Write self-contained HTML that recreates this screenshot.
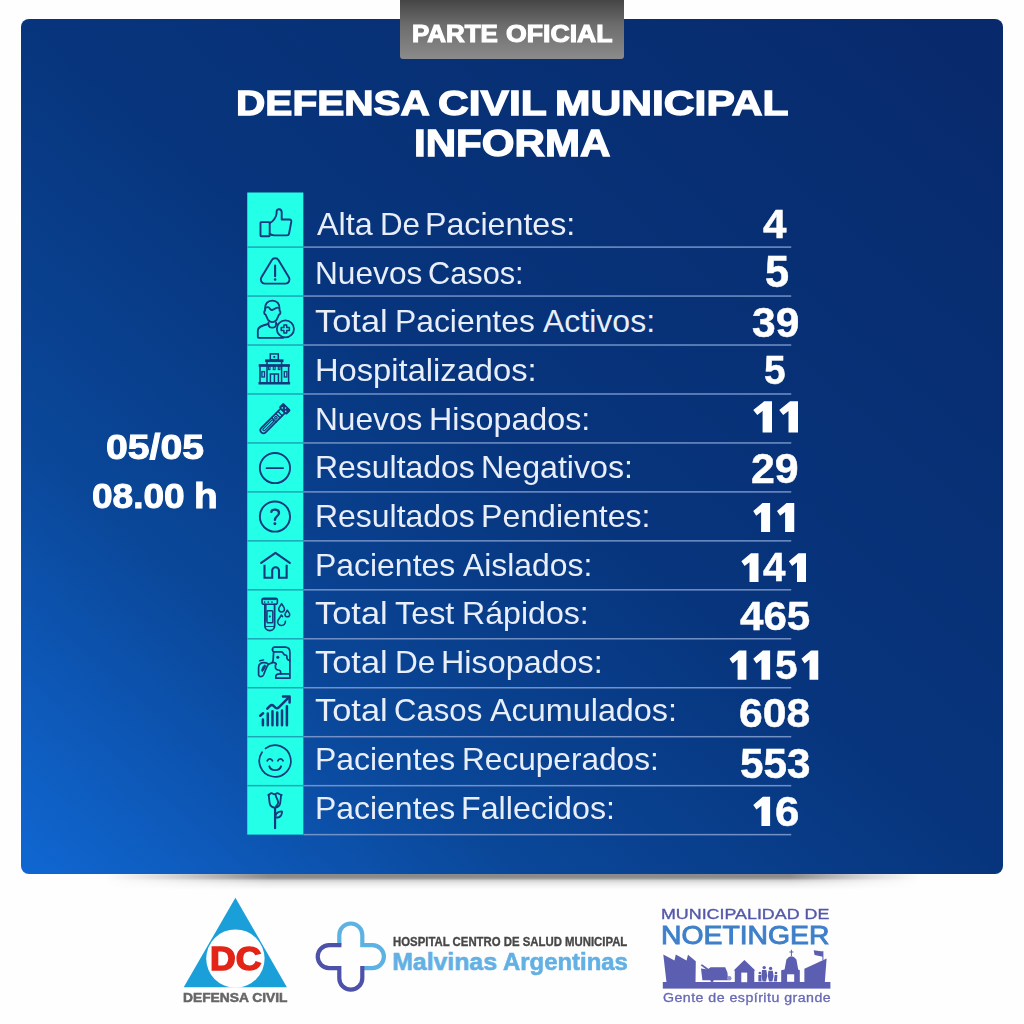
<!DOCTYPE html>
<html lang="es"><head><meta charset="utf-8"><title>Parte Oficial</title>
<style>
html,body{margin:0;padding:0;}
body{width:1024px;height:1024px;position:relative;overflow:hidden;background:#fefefe;font-family:"Liberation Sans",sans-serif;}
.abs{position:absolute;}
.tx{position:absolute;white-space:nowrap;line-height:1;transform-origin:0 0;}
#shadow{left:105px;top:870px;width:815px;height:20px;background:linear-gradient(to bottom,rgba(0,0,0,.45) 0,rgba(0,0,0,.45) 7px,rgba(0,0,0,.38) 8.5px,rgba(0,0,0,.18) 10.5px,rgba(0,0,0,.09) 13px,rgba(0,0,0,.03) 17px,rgba(0,0,0,0) 20px);-webkit-mask-image:linear-gradient(to right,transparent 0,rgba(0,0,0,.35) 8%,#000 20%,#000 84%,rgba(0,0,0,.3) 94%,transparent 100%);mask-image:linear-gradient(to right,transparent 0,rgba(0,0,0,.35) 8%,#000 20%,#000 84%,rgba(0,0,0,.3) 94%,transparent 100%);}
#panel{left:20.5px;top:18.7px;width:982.9px;height:855.1px;border-radius:8px;
 background:linear-gradient(to bottom left,#08296b 0%,#07357d 50%,#0a4799 74.5%,#1067d2 100%);}
#tab{left:400.3px;top:0;width:223.5px;height:59.2px;border-radius:0 0 3px 3px;
 background:linear-gradient(to bottom,#454545 0%,#6c6c6c 42%,#8b8b8b 100%);}
.num{position:absolute;width:140px;left:704.75px;text-align:center;color:#fff;font-weight:bold;font-size:40.9px;line-height:1;white-space:nowrap;-webkit-text-stroke:0.5px #fff;transform:scaleX(1.035);}
.ic{position:absolute;left:247.25px;width:56.25px;height:48px;}
.ic svg{position:absolute;left:0;top:0;width:56.25px;height:48px;overflow:visible;}
</style></head><body>
<div id="shadow" class="abs"></div>
<div id="panel" class="abs"></div>
<div id="tab" class="abs"></div>
<svg class="abs" style="left:0;top:180px" width="1024" height="670" viewBox="0 180 1024 670"><rect x="247.25" y="192.5" width="56.1" height="642.1" fill="#24ffe8"/><rect x="303.35" y="246.35" width="487.9" height="1.5" fill="#7391c6"/><rect x="247.25" y="246.35" width="56.1" height="1.5" fill="#1ba6b7"/><rect x="303.35" y="295.31" width="487.9" height="1.5" fill="#7391c6"/><rect x="247.25" y="295.31" width="56.1" height="1.5" fill="#1ba6b7"/><rect x="303.35" y="344.27" width="487.9" height="1.5" fill="#7391c6"/><rect x="247.25" y="344.27" width="56.1" height="1.5" fill="#1ba6b7"/><rect x="303.35" y="393.23" width="487.9" height="1.5" fill="#7391c6"/><rect x="247.25" y="393.23" width="56.1" height="1.5" fill="#1ba6b7"/><rect x="303.35" y="442.19" width="487.9" height="1.5" fill="#7391c6"/><rect x="247.25" y="442.19" width="56.1" height="1.5" fill="#1ba6b7"/><rect x="303.35" y="491.15" width="487.9" height="1.5" fill="#7391c6"/><rect x="247.25" y="491.15" width="56.1" height="1.5" fill="#1ba6b7"/><rect x="303.35" y="540.11" width="487.9" height="1.5" fill="#7391c6"/><rect x="247.25" y="540.11" width="56.1" height="1.5" fill="#1ba6b7"/><rect x="303.35" y="589.07" width="487.9" height="1.5" fill="#7391c6"/><rect x="247.25" y="589.07" width="56.1" height="1.5" fill="#1ba6b7"/><rect x="303.35" y="638.03" width="487.9" height="1.5" fill="#7391c6"/><rect x="247.25" y="638.03" width="56.1" height="1.5" fill="#1ba6b7"/><rect x="303.35" y="686.99" width="487.9" height="1.5" fill="#7391c6"/><rect x="247.25" y="686.99" width="56.1" height="1.5" fill="#1ba6b7"/><rect x="303.35" y="735.95" width="487.9" height="1.5" fill="#7391c6"/><rect x="247.25" y="735.95" width="56.1" height="1.5" fill="#1ba6b7"/><rect x="303.35" y="784.91" width="487.9" height="1.5" fill="#7391c6"/><rect x="247.25" y="784.91" width="56.1" height="1.5" fill="#1ba6b7"/><rect x="303.35" y="833.87" width="487.9" height="1.5" fill="#7391c6"/></svg>

<svg class="abs" style="left:0;top:880px" width="1024" height="144" viewBox="0 880 1024 144">
<!-- Defensa Civil -->
<polygon points="235.4,897.7 286.9,987.2 183.7,987.2" fill="#1b9fd9"/>
<circle cx="235.4" cy="958.6" r="29.2" fill="#fefefe"/>
<!-- Hospital cross -->
<g fill="none" stroke-width="4.2" stroke-linecap="butt" stroke-linejoin="miter">
<path d="M339.3 945.1 V935 A11.5 11.5 0 0 1 362.3 935 V945.1 H372.4 A11.5 11.5 0 0 1 372.4 968.1 H362.3" stroke="#5db2e3"/>
<path d="M362.3 966 V978.2 A11.5 11.5 0 0 1 339.3 978.2 V968.1 H329.2 A11.5 11.5 0 0 1 329.2 945.1 H341.4" stroke="#4d51a8"/>
</g>
<!-- Noetinger skyline -->
<g fill="#5b5eb1">
<rect x="662.8" y="982" width="167.6" height="6.6"/>
<polygon points="663.3,954.5 674.5,960.4 675.8,954.5 686.5,960.4 688,954.8 695.8,961.3 695.5,982.5 666.5,982.5"/>
<path d="M701 968.6 L707.6 969.6 L710.6 967.2 H725.2 L727.4 972.4 L728.2 980.2 H702.4 Z"/>
<path d="M700.6 965.2 L702 964.2 L709.4 969.6 L708.2 971 Z"/>
<circle cx="729.2" cy="978.2" r="2.3" fill="#8f91cc"/>
<circle cx="712" cy="980.4" r="1.6"/>
<polygon points="733.6,970.6 744.4,959.9 755.4,970.6 754.3,970.6 754.3,982.5 734.8,982.5 734.8,970.6"/>
<rect x="741.3" y="972.6" width="5.9" height="9.6" fill="#fefefe"/>
<circle cx="764.2" cy="967.6" r="1.7"/><circle cx="770.6" cy="968.4" r="1.7"/>
<path d="M762 970 H766.4 L767.2 976 L766 981.5 H762.6 L761.4 976 Z"/>
<path d="M768.4 970.8 H772.8 L773.6 976 L772.4 981.5 H769 L767.8 976 Z"/>
<circle cx="759.8" cy="973" r="1.3"/><path d="M758.4 975 H761.2 L761.6 981.5 H758.4 Z"/>
<circle cx="776" cy="973" r="1.3"/><path d="M774.6 975 H777.4 L777 981.5 H773.8 Z"/>
<path d="M781.2 982.5 V970.2 L784.6 969.4 L786.4 959.6 Q791.4 953 796.4 959.6 L798.2 969.4 L799.8 970.2 V982.5 Z"/>
<path d="M790.9 949.8 H791.9 V951.6 H793.4 V952.6 H791.9 V956 H790.9 V952.6 H789.4 V951.6 H790.9 Z"/>
<rect x="787.1" y="974.3" width="7.1" height="7.5" fill="#fefefe"/>
<polygon points="804.4,968.8 826.6,958.6 824.8,982.5 804.4,982.5"/>
<rect x="822.4" y="951.2" width="1" height="9"/>
<polygon points="813.7,950.2 822.9,951.5 822.9,956.7 814.6,954.9"/>
</g>
</svg>
<div class="tx" id="taba" style="left:411.91px;top:21.59px;font-size:23.8px;font-weight:bold;color:#fff;transform:scaleX(1.0890);-webkit-text-stroke:1.1px #fff;">PARTE</div>
<div class="tx" id="tabb" style="left:506.14px;top:21.59px;font-size:23.8px;font-weight:bold;color:#fff;transform:scaleX(1.1196);-webkit-text-stroke:1.1px #fff;">OFICIAL</div>
<div class="tx" id="t1a" style="left:235.73px;top:86.05px;font-size:35.8px;font-weight:bold;color:#fff;transform:scaleX(1.1337);-webkit-text-stroke:1.3px #fff;">DEFENSA</div>
<div class="tx" id="t1b" style="left:437.61px;top:86.05px;font-size:35.8px;font-weight:bold;color:#fff;transform:scaleX(1.1900);-webkit-text-stroke:1.3px #fff;">CIVIL</div>
<div class="tx" id="t1c" style="left:555.42px;top:86.05px;font-size:35.8px;font-weight:bold;color:#fff;transform:scaleX(1.1897);-webkit-text-stroke:1.3px #fff;">MUNICIPAL</div>
<div class="tx" id="t2" style="left:413.75px;top:125.00px;font-size:37.4px;font-weight:bold;color:#fff;transform:scaleX(1.1264);-webkit-text-stroke:1.3px #fff;">INFORMA</div>
<div class="tx" id="d1" style="left:105.51px;top:430.05px;font-size:35.8px;font-weight:bold;color:#fff;transform:scaleX(1.0943);-webkit-text-stroke:1px #fff;">05/05</div>
<div class="tx" id="d2a" style="left:92.02px;top:479.35px;font-size:35.8px;font-weight:bold;color:#fff;transform:scaleX(1.0349);-webkit-text-stroke:1px #fff;">08.00</div>
<div class="tx" id="d2b" style="left:194.43px;top:479.35px;font-size:35.8px;font-weight:bold;color:#fff;transform:scaleX(1.0861);-webkit-text-stroke:1px #fff;">h</div>
<div class="tx" id="l0_0" style="left:316.60px;top:207.96px;font-size:32px;font-weight:normal;color:#e8eefa;transform:scaleX(1.0127);">Alta</div>
<div class="tx" id="l0_1" style="left:379.55px;top:207.96px;font-size:32px;font-weight:normal;color:#e8eefa;transform:scaleX(0.9784);">De</div>
<div class="tx" id="l0_2" style="left:425.39px;top:207.96px;font-size:32px;font-weight:normal;color:#e8eefa;transform:scaleX(1.0056);">Pacientes:</div>
<div class="tx" id="l1_0" style="left:314.73px;top:256.61px;font-size:32px;font-weight:normal;color:#e8eefa;transform:scaleX(0.9895);">Nuevos</div>
<div class="tx" id="l1_1" style="left:428.46px;top:256.61px;font-size:32px;font-weight:normal;color:#e8eefa;transform:scaleX(0.9600);">Casos:</div>
<div class="tx" id="l2_0" style="left:315.46px;top:305.26px;font-size:32px;font-weight:normal;color:#e8eefa;transform:scaleX(1.0754);">Total</div>
<div class="tx" id="l2_1" style="left:394.81px;top:305.26px;font-size:32px;font-weight:normal;color:#e8eefa;transform:scaleX(0.9949);">Pacientes</div>
<div class="tx" id="l2_2" style="left:543.00px;top:305.26px;font-size:32px;font-weight:normal;color:#e8eefa;transform:scaleX(1.0000);">Activos:</div>
<div class="tx" id="l3_0" style="left:314.65px;top:353.91px;font-size:32px;font-weight:normal;color:#e8eefa;transform:scaleX(1.0213);">Hospitalizados:</div>
<div class="tx" id="l4_0" style="left:314.73px;top:402.56px;font-size:32px;font-weight:normal;color:#e8eefa;transform:scaleX(0.9895);">Nuevos</div>
<div class="tx" id="l4_1" style="left:428.73px;top:402.56px;font-size:32px;font-weight:normal;color:#e8eefa;transform:scaleX(1.0074);">Hisopados:</div>
<div class="tx" id="l5_0" style="left:315.10px;top:451.21px;font-size:32px;font-weight:normal;color:#e8eefa;transform:scaleX(0.9981);">Resultados</div>
<div class="tx" id="l5_1" style="left:481.09px;top:451.21px;font-size:32px;font-weight:normal;color:#e8eefa;transform:scaleX(1.0055);">Negativos:</div>
<div class="tx" id="l6_0" style="left:315.10px;top:499.86px;font-size:32px;font-weight:normal;color:#e8eefa;transform:scaleX(0.9981);">Resultados</div>
<div class="tx" id="l6_1" style="left:481.09px;top:499.86px;font-size:32px;font-weight:normal;color:#e8eefa;transform:scaleX(1.0024);">Pendientes:</div>
<div class="tx" id="l7_0" style="left:315.11px;top:548.51px;font-size:32px;font-weight:normal;color:#e8eefa;transform:scaleX(0.9978);">Pacientes</div>
<div class="tx" id="l7_1" style="left:463.10px;top:548.51px;font-size:32px;font-weight:normal;color:#e8eefa;transform:scaleX(0.9953);">Aislados:</div>
<div class="tx" id="l8_0" style="left:315.46px;top:597.16px;font-size:32px;font-weight:normal;color:#e8eefa;transform:scaleX(1.0754);">Total</div>
<div class="tx" id="l8_1" style="left:395.19px;top:597.16px;font-size:32px;font-weight:normal;color:#e8eefa;transform:scaleX(1.0103);">Test</div>
<div class="tx" id="l8_2" style="left:461.59px;top:597.16px;font-size:32px;font-weight:normal;color:#e8eefa;transform:scaleX(1.0033);">Rápidos:</div>
<div class="tx" id="l9_0" style="left:315.46px;top:645.81px;font-size:32px;font-weight:normal;color:#e8eefa;transform:scaleX(1.0754);">Total</div>
<div class="tx" id="l9_1" style="left:394.83px;top:645.81px;font-size:32px;font-weight:normal;color:#e8eefa;transform:scaleX(0.9865);">De</div>
<div class="tx" id="l9_2" style="left:441.02px;top:645.81px;font-size:32px;font-weight:normal;color:#e8eefa;transform:scaleX(1.0100);">Hisopados:</div>
<div class="tx" id="l10_0" style="left:315.46px;top:694.46px;font-size:32px;font-weight:normal;color:#e8eefa;transform:scaleX(1.0754);">Total</div>
<div class="tx" id="l10_1" style="left:394.24px;top:694.46px;font-size:32px;font-weight:normal;color:#e8eefa;transform:scaleX(0.9722);">Casos</div>
<div class="tx" id="l10_2" style="left:490.40px;top:694.46px;font-size:32px;font-weight:normal;color:#e8eefa;transform:scaleX(1.0110);">Acumulados:</div>
<div class="tx" id="l11_0" style="left:315.11px;top:743.11px;font-size:32px;font-weight:normal;color:#e8eefa;transform:scaleX(0.9978);">Pacientes</div>
<div class="tx" id="l11_1" style="left:461.63px;top:743.11px;font-size:32px;font-weight:normal;color:#e8eefa;transform:scaleX(0.9876);">Recuperados:</div>
<div class="tx" id="l12_0" style="left:315.11px;top:791.76px;font-size:32px;font-weight:normal;color:#e8eefa;transform:scaleX(0.9978);">Pacientes</div>
<div class="tx" id="l12_1" style="left:461.48px;top:791.76px;font-size:32px;font-weight:normal;color:#e8eefa;transform:scaleX(1.0068);">Fallecidos:</div>
<div class="tx" id="n0" style="left:762.99px;top:204.02px;font-size:41.4px;font-weight:bold;color:#fff;transform:scaleX(1.0178);-webkit-text-stroke:0.5px #fff;">4</div>
<div class="tx" id="n1_" style="left:765.02px;top:249.82px;font-size:44.3px;font-weight:bold;color:#fff;transform:scaleX(0.9778);-webkit-text-stroke:0.5px #fff;">5</div>
<div class="tx" id="n2_" style="left:751.74px;top:301.51px;font-size:41.7px;font-weight:bold;color:#fff;transform:scaleX(1.0191);-webkit-text-stroke:0.5px #fff;">39</div>
<div class="tx" id="n3_" style="left:763.55px;top:350.39px;font-size:40.9px;font-weight:bold;color:#fff;transform:scaleX(0.9524);-webkit-text-stroke:0.5px #fff;">5</div>
<div class="tx" id="n5" style="left:751.22px;top:447.95px;font-size:41.6px;font-weight:bold;color:#fff;transform:scaleX(1.0307);-webkit-text-stroke:0.5px #fff;">29</div>
<div class="tx" id="n7" style="left:763.41px;top:547.44px;font-size:40.9px;font-weight:bold;color:#fff;transform:scaleX(0.9867);-webkit-text-stroke:0.5px #fff;">4</div>
<div class="tx" id="n8" style="left:739.59px;top:595.70px;font-size:41.3px;font-weight:bold;color:#fff;transform:scaleX(1.0193);-webkit-text-stroke:0.5px #fff;">465</div>
<div class="tx" id="n9" style="left:775.42px;top:644.70px;font-size:41.3px;font-weight:bold;color:#fff;transform:scaleX(0.9810);-webkit-text-stroke:0.5px #fff;">5</div>
<div class="tx" id="n10" style="left:739.20px;top:693.17px;font-size:41.4px;font-weight:bold;color:#fff;transform:scaleX(1.0301);-webkit-text-stroke:0.5px #fff;">608</div>
<div class="tx" id="n11" style="left:739.99px;top:742.65px;font-size:41.6px;font-weight:bold;color:#fff;transform:scaleX(1.0134);-webkit-text-stroke:0.5px #fff;">553</div>
<div class="tx" id="n12" style="left:774.82px;top:790.65px;font-size:41.6px;font-weight:bold;color:#fff;transform:scaleX(1.0537);-webkit-text-stroke:0.5px #fff;">6</div>
<div class="tx" id="dc" style="left:210.32px;top:941.64px;font-size:33.8px;font-weight:bold;color:#e32416;transform:scaleX(1.0532);-webkit-text-stroke:1.5px #e32416;">DC</div>
<div class="tx" id="dcl" style="left:182.75px;top:991.84px;font-size:12.5px;font-weight:bold;color:#666;transform:scaleX(1.1037);-webkit-text-stroke:0.5px #666;">DEFENSA CIVIL</div>
<div class="tx" id="h1" style="left:393.25px;top:935.75px;font-size:12.6px;font-weight:bold;color:#474747;transform:scaleX(0.9027);-webkit-text-stroke:0.35px #474747;">HOSPITAL CENTRO DE SALUD MUNICIPAL</div>
<div class="tx" id="h2a" style="left:392.20px;top:949.54px;font-size:24.8px;font-weight:bold;color:#62b0e4;transform:scaleX(1.0000);-webkit-text-stroke:0.6px #62b0e4;">Malvinas</div>
<div class="tx" id="h2b" style="left:503.12px;top:949.54px;font-size:24.8px;font-weight:bold;color:#62b0e4;transform:scaleX(0.9642);-webkit-text-stroke:0.6px #62b0e4;">Argentinas</div>
<div class="tx" id="n1" style="left:661.39px;top:907.39px;font-size:14.8px;font-weight:normal;color:#5557a9;transform:scaleX(1.2065);-webkit-text-stroke:0.35px #5557a9;">MUNICIPALIDAD DE</div>
<div class="tx" id="n2" style="left:660.91px;top:923.21px;font-size:25.2px;font-weight:normal;color:#3e80c9;transform:scaleX(1.1250);-webkit-text-stroke:0.9px #3e80c9;">NOETINGER</div>
<div class="tx" id="n3" style="left:663.31px;top:991.66px;font-size:12px;font-weight:normal;color:#6769b6;transform:scaleX(1.1809);letter-spacing:0.4px;-webkit-text-stroke:0.3px #6769b6;">Gente de espíritu grande</div>
<svg class="abs" style="left:0;top:390px" width="1024" height="450" viewBox="0 390 1024 450"><g fill="#fff"><polygon points="764.16,401.25 772.00,401.25 772.00,432.50 762.60,432.50 762.60,410.94 757.29,415.00 753.25,410.00"/><polygon points="790.06,401.25 798.00,401.25 798.00,432.50 788.50,432.50 788.50,410.94 783.19,415.00 779.25,410.00"/><polygon points="762.55,503.00 770.10,503.00 770.10,532.00 761.10,532.00 761.10,511.99 756.17,515.76 753.25,511.12"/><polygon points="786.55,503.00 794.25,503.00 794.25,532.00 785.10,532.00 785.10,511.99 780.17,515.76 777.00,511.12"/><polygon points="750.94,553.25 758.50,553.25 758.50,582.00 749.50,582.00 749.50,562.16 744.61,565.90 741.40,561.30"/><polygon points="798.44,553.25 806.00,553.25 806.00,582.00 797.00,582.00 797.00,562.16 792.11,565.90 788.90,561.30"/><polygon points="739.06,650.60 746.40,650.60 746.40,679.70 737.60,679.70 737.60,659.62 732.65,663.40 729.50,658.75"/><polygon points="762.86,650.60 770.10,650.60 770.10,679.70 761.40,679.70 761.40,659.62 756.45,663.40 753.25,658.75"/><polygon points="810.96,650.60 818.25,650.60 818.25,679.70 809.50,679.70 809.50,659.62 804.55,663.40 801.40,658.75"/><polygon points="762.86,796.75 770.10,796.75 770.10,826.00 761.40,826.00 761.40,805.82 756.43,809.62 753.25,804.94"/></g></svg>
<div class="ic" style="top:199.75px"><svg viewBox="0 0 56.25 48" fill="none" stroke="#14397c" stroke-width="1.8" stroke-linecap="round" stroke-linejoin="round"><g stroke-width="1.9"><rect x="13.5" y="22.1" width="9.2" height="14.1" rx="0.6"/><path d="M22.7 23 C26 22 29.6 16.5 29.6 13.3 V11.6 C29.6 8.4 34.7 8.2 34.7 12.4 V19.5 H42.4 C43.8 19.5 44.5 20.4 44.3 21.7 L42 33.7 C41.8 34.8 41 35.4 40 35.4 H27.5 C25.5 35.4 24.2 34.9 22.7 33.9"/></g></svg></div>
<div class="ic" style="top:248.71px"><svg viewBox="0 0 56.25 48" fill="none" stroke="#14397c" stroke-width="1.8" stroke-linecap="round" stroke-linejoin="round"><g stroke-width="1.95"><path d="M17.75 34.6 A4 4 0 0 1 14.32 28.54 L24.72 11.235 A4 4 0 0 1 31.58 11.235 L41.98 28.54 A4 4 0 0 1 38.55 34.6 Z"/><path d="M28.1 16.6 V27.2" stroke-width="2.1"/><circle cx="28.1" cy="30.5" r="1.25" fill="#14397c" stroke="none"/></g></svg></div>
<div class="ic" style="top:297.67px"><svg viewBox="0 0 56.25 48" fill="none" stroke="#14397c" stroke-width="1.8" stroke-linecap="round" stroke-linejoin="round"><g stroke-width="1.8"><path d="M25.3 2.6 C20.4 2.6 17.9 6.2 18.1 10.6 L18 12.6 C16.6 13.4 17 16.2 18.6 16.6 L21 21.8 Q25.3 26.4 29.6 21.8 L32 16.6 C33.6 16.2 34 13.4 32.6 12.6 L32.5 10.6 C32.7 6.2 30.2 2.6 25.3 2.6 Z"/><path d="M18.4 10 C19.6 9.2 21 8.8 21.8 9.4 C22.8 10.4 23.4 12.2 25 12 C26.6 11.8 28.4 10.2 29.6 9.9 C30.6 9.6 31.6 9.6 32.2 10"/><path d="M21.5 24.4 V26.2 C21.8 30.8 28.8 30.8 29.1 26.2 V24.4"/><path d="M21.2 26 C15.5 27.2 10.8 28.6 10.8 32.8 V39 Q10.8 39.9 11.7 39.9 H36"/><path d="M29.3 26 L31.2 26.6"/><circle cx="38.4" cy="30.9" r="8.55" fill="#24ffe8"/><path d="M36.9 26.9 H39.7 V29.6 H42.4 V32.4 H39.7 V35.1 H36.9 V32.4 H34.2 V29.6 H36.9 Z" stroke-width="1.5"/></g></svg></div>
<div class="ic" style="top:346.63px"><svg viewBox="0 0 56.25 48" fill="none" stroke="#14397c" stroke-width="1.8" stroke-linecap="round" stroke-linejoin="round"><g stroke-width="1.5" stroke-linejoin="miter" stroke-linecap="butt"><rect x="23.3" y="6.9" width="8" height="5.8"/><rect x="26.4" y="9" width="1.8" height="1.8" fill="#14397c" stroke="none"/><rect x="18.6" y="12.9" width="17.4" height="1.7" fill="#14397c" stroke-width="1"/><path d="M20 14.8 V35.5 M34.6 14.8 V35.5"/><rect x="12.2" y="17.7" width="30.2" height="1.6" fill="#14397c" stroke-width="1"/><path d="M13 19.4 V35.5 M41.6 19.4 V35.5"/><rect x="21.4" y="19.4" width="1.6" height="3.2" stroke-width="1.1"/><rect x="26.3" y="19.4" width="1.8" height="3.2" stroke-width="1.1"/><rect x="31.3" y="19.4" width="1.6" height="3.2" stroke-width="1.1"/><rect x="14.9" y="24.6" width="2.6" height="5.4" stroke-width="1.3"/><rect x="37.3" y="24.6" width="2.6" height="5.4" stroke-width="1.3"/><path d="M23.4 35.5 V27 H31.4 V35.5 M27.4 27 V35.5"/><rect x="12" y="35.5" width="30.6" height="1.5" fill="#14397c" stroke-width="1"/></g></svg></div>
<div class="ic" style="top:395.59px"><svg viewBox="0 0 56.25 48" fill="none" stroke="#14397c" stroke-width="1.8" stroke-linecap="round" stroke-linejoin="round"><g transform="translate(16.5 34.1) rotate(-45)" stroke-width="1.7"><path d="M0 -3.1 H27.4 V3.1 H0 A3.1 3.1 0 0 1 0 -3.1 Z"/><path d="M0.8 -1.15 H12.6 A1.15 1.15 0 0 1 12.6 1.15 H0.8 A1.15 1.15 0 0 1 0.8 -1.15 Z" stroke-width="1.2"/><path d="M14.6 -3.1 V3.1 M20.4 -3.1 V3.1 M23.4 -3.1 V3.1" stroke-width="1.4"/><circle cx="17.5" cy="0" r="1.2" stroke-width="1.2"/><rect x="27.4" y="-4.9" width="5.4" height="9.8" rx="0.9" fill="#14397c" stroke-width="1.2"/><circle cx="29" cy="-2.4" r="0.8" fill="#24ffe8" stroke="none"/><circle cx="31.2" cy="0" r="0.8" fill="#24ffe8" stroke="none"/><circle cx="29" cy="2.4" r="0.8" fill="#24ffe8" stroke="none"/></g></svg></div>
<div class="ic" style="top:444.55px"><svg viewBox="0 0 56.25 48" fill="none" stroke="#14397c" stroke-width="1.8" stroke-linecap="round" stroke-linejoin="round"><circle cx="27.95" cy="23.05" r="15.1" stroke-width="1.9"/><path d="M19.6 23.15 H36" stroke-width="1.9"/></svg></div>
<div class="ic" style="top:493.51px"><svg viewBox="0 0 56.25 48" fill="none" stroke="#14397c" stroke-width="1.8" stroke-linecap="round" stroke-linejoin="round"><circle cx="27.95" cy="22.55" r="15.1" stroke-width="1.9"/><path d="M24.4 17.9 C24.8 14.6 32.2 14.8 32 19 C31.8 22.2 27.9 22.4 27.9 25.9" stroke-width="2.3"/><circle cx="27.9" cy="29.8" r="1.45" fill="#14397c" stroke="none"/></svg></div>
<div class="ic" style="top:542.47px"><svg viewBox="0 0 56.25 48" fill="none" stroke="#14397c" stroke-width="1.8" stroke-linecap="round" stroke-linejoin="round"><g stroke-width="2.1"><path d="M14.2 20.8 L28.45 10.8 L42.8 20.8"/><path d="M17.5 22.8 V35.7 H25.2 V28.6 A3.4 3.4 0 0 1 32 28.6 V35.7 H39.65 V22.8" stroke-linejoin="miter" stroke-linecap="butt"/></g></svg></div>
<div class="ic" style="top:591.43px"><svg viewBox="0 0 56.25 48" fill="none" stroke="#14397c" stroke-width="1.8" stroke-linecap="round" stroke-linejoin="round"><g stroke-width="1.6"><rect x="15" y="7.2" width="15.4" height="6" rx="2"/><path d="M16.5 8.6 H29" stroke-width="1"/><path d="M17.6 11 H28" stroke-width="1.7" stroke-dasharray="0.1 3.55"/><path d="M17.9 13.3 V34.8 A4.85 4.85 0 0 0 27.6 34.8 V13.3" stroke-width="1.8"/><path d="M19 14 V30" stroke-width="1.2"/><rect x="20" y="19.8" width="5.8" height="12" rx="0.8" stroke-width="1.4"/><circle cx="22.8" cy="25.6" r="1" fill="#14397c" stroke="none"/><path d="M18.5 35.5 L27 35.5" stroke-width="0.9"/><path d="M34.6 12.6 C33.4 15 31.7 16.4 31.7 18 A2.9 2.9 0 0 0 37.5 18 C37.5 16.4 35.8 15 34.6 12.6 Z" stroke-width="1.5"/><path d="M40.3 19.2 C39.4 21 38 22.2 38 23.4 A2.35 2.35 0 0 0 42.7 23.4 C42.7 22.2 41.2 21 40.3 19.2 Z" stroke-width="1.5"/><path d="M35.6 25.6 C35 24.6 34.5 24.2 34.3 24 C33 27 30.6 28.4 30.6 30.8 A3.9 3.9 0 0 0 38.4 30.4" stroke-width="1.6"/></g></svg></div>
<div class="ic" style="top:640.39px"><svg viewBox="0 0 56.25 48" fill="none" stroke="#14397c" stroke-width="1.8" stroke-linecap="round" stroke-linejoin="round"><g stroke-width="1.7"><path d="M25.5 9.5 C25.5 8 26.2 7.1 27.6 7.1 H38.2 C41.6 7.1 42.9 9.4 42.9 12.4 V38.2 H28.8 V36.6 C28.8 34.6 30.6 33.9 32.6 33.9 H42.6"/><path d="M25.5 9.5 C25.6 11 26 11.8 27 11.8 H34.6 C36 11.8 36.4 14.4 37.4 14.8 C38.4 15.2 39.7 14.6 39.8 16 C39.9 17.6 39.8 18.6 40.6 19.4 L42.7 20.6"/><path d="M26.7 11.8 C26.4 14 26.3 18.5 26.1 20.6 L25.4 22.2 L28 22.8 C29.6 23.2 29.6 24.6 28.4 25.2 L28.5 28 C28.7 29.4 30 29.8 31.4 30 C33.2 30.2 33.6 30.6 33.6 32 V33.8"/><circle cx="30.8" cy="17.3" r="1.5" fill="#14397c" stroke="none"/><path d="M25.6 22.6 L21.4 24.2"/><path d="M11.6 34.6 V27.4 C11.6 24 14 22.6 17 22.7 C19 22.8 20.6 23.2 21.4 24.2 C19.4 27 18 31 16.6 34.8 C15.8 36.8 11.6 37.6 11.6 34.6 Z"/><path d="M14.6 30.4 C15 28 16.2 25.8 17.6 25 C18.4 24.8 19 25.4 18.6 26.4 C17.8 28.2 16.6 30.2 15.6 31.4 Z" fill="#14397c" stroke-width="0.8"/><path d="M12.7 20.8 L16.6 19.9" stroke-width="1.4"/></g></svg></div>
<div class="ic" style="top:689.35px"><svg viewBox="0 0 56.25 48" fill="none" stroke="#14397c" stroke-width="1.8" stroke-linecap="round" stroke-linejoin="round"><g stroke-width="2.5"><path d="M15.9 30.4 V36.3 M20.8 24.4 V36.3 M25.45 22.2 V36.3 M30.2 23.5 V36.3 M35 21.4 V36.3 M39.9 17.3 V36.3"/><path d="M13.2 26.7 L16.1 24.2"/><path d="M20.3 19.6 L23 16.9 C24.2 15.8 25.4 15.8 26.6 16.9 L28.4 18.6 C29.6 19.6 30.8 19.4 31.8 18.4 L41.8 8.4"/><path d="M36 7.5 H42.6 V13.6"/></g></svg></div>
<div class="ic" style="top:738.31px"><svg viewBox="0 0 56.25 48" fill="none" stroke="#14397c" stroke-width="1.8" stroke-linecap="round" stroke-linejoin="round"><g stroke-width="1.7"><path d="M18.6 10.4 A15.75 15.75 0 1 1 15 14.2"/><path d="M20.3 22.7 C21.2 20.2 24.5 20.2 25.4 22.7 M30.9 22.7 C31.8 20.2 35.1 20.2 36 22.7" stroke-width="1.9"/><path d="M22.3 28.3 C23.6 33.4 32.8 33.4 34.1 28.3" stroke-width="1.9"/></g></svg></div>
<div class="ic" style="top:787.27px"><svg viewBox="0 0 56.25 48" fill="none" stroke="#14397c" stroke-width="1.8" stroke-linecap="round" stroke-linejoin="round"><g stroke-width="2"><path d="M28.07 20.8 V41.2" stroke-width="2.2"/><g transform="translate(28.07 20.6) scale(0.9 0.94) translate(-28.07 -20.4)"><path d="M21 7 C21.6 11 21.6 14 22.2 16.4 C23 19.4 26 20.4 27.9 20.4 C29.8 20.4 32.8 19.4 33.6 16.4 C34.2 14 34.2 11 34.8 7"/><path d="M20.6 7 C22 6.6 22.8 5 24 5 C25.4 5 26 6.2 27.3 6.2 C28.6 6.2 29.2 5 30.6 5 C32 5 33.4 6.6 35.4 7"/><path d="M28.6 6.6 C29 9 30 10.6 30.8 12.2 C32 14.6 31 17.4 29.2 19" stroke-width="2"/></g><path d="M28.3 30.6 C31 30.8 33 30.2 34.2 28.2 C35 26.8 35.2 25.4 35 24.4 C32.8 24.4 30.6 25 29.4 26.8 C28.6 28 28.3 29.2 28.3 30.6 Z" stroke-width="1.8"/></g></svg></div>
</body></html>
